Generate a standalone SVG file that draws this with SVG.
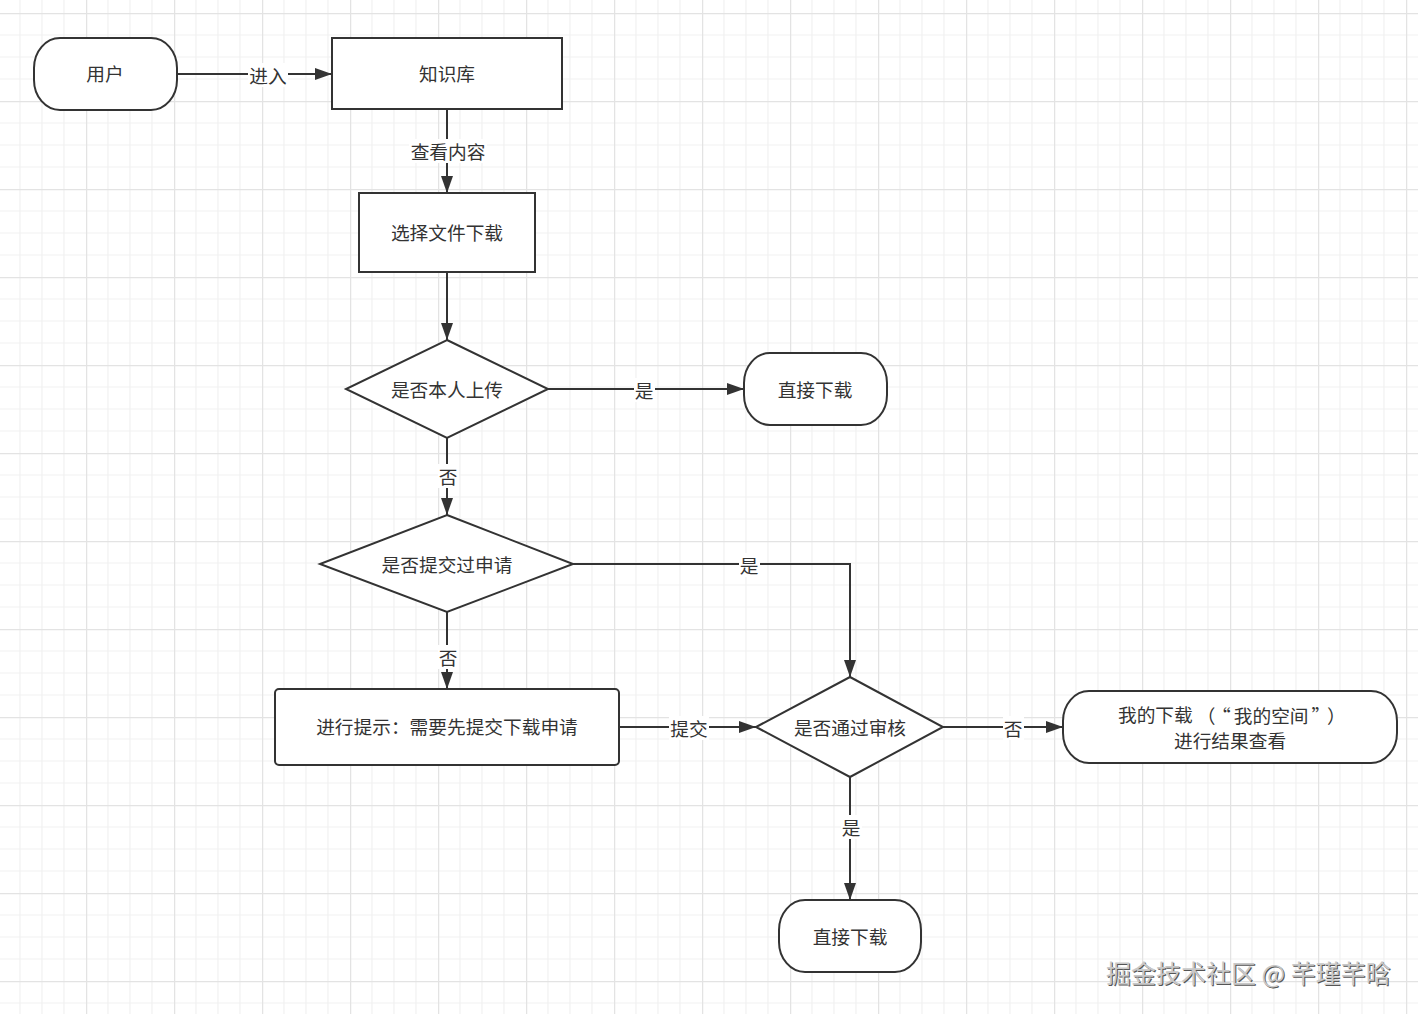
<svg xmlns="http://www.w3.org/2000/svg" width="1418" height="1014" viewBox="0 0 1418 1014">
<style>
.node{fill:#fff;stroke:#333;stroke-width:2}
.t{font-family:"Noto Sans CJK SC","Noto Sans",sans-serif;font-size:18.7px;fill:#333;text-anchor:middle;dominant-baseline:central}
.s{text-anchor:start}
.edge{fill:none;stroke:#333;stroke-width:2}
.lbg{fill:#fff}
.wm{font-family:"Noto Sans CJK SC","Noto Sans",sans-serif;font-size:25px}
</style>
<defs>
<pattern id="grid" x="-2" y="13" width="88" height="88" patternUnits="userSpaceOnUse">
<path d="M22 0V88M44 0V88M66 0V88M0 22H88M0 44H88M0 66H88" stroke="#f1f1f1" stroke-width="1.2" fill="none"/>
<path d="M0.5 0V88M0 0.5H88" stroke="#e3e3e3" stroke-width="1.5" fill="none"/>
</pattern>
<marker id="arr" viewBox="0 0 17 12" refX="17" refY="6" markerWidth="17" markerHeight="12" markerUnits="userSpaceOnUse" orient="auto">
<path d="M0 0L17 6L0 12z" fill="#333"/>
</marker>
</defs>
<rect width="1418" height="1014" fill="#fff"/>
<rect width="1418" height="1014" fill="url(#grid)"/>

<g id="connectors">
<path class="edge" d="M177 74H332" marker-end="url(#arr)"/>
<path class="edge" d="M447 109V193" marker-end="url(#arr)"/>
<path class="edge" d="M447 272V340" marker-end="url(#arr)"/>
<path class="edge" d="M548 389H744" marker-end="url(#arr)"/>
<path class="edge" d="M447 438V515" marker-end="url(#arr)"/>
<path class="edge" d="M573 564H850V677" marker-end="url(#arr)"/>
<path class="edge" d="M447 612V689" marker-end="url(#arr)"/>
<path class="edge" d="M619 727H756" marker-end="url(#arr)"/>
<path class="edge" d="M943 727H1063" marker-end="url(#arr)"/>
<path class="edge" d="M850 777V900" marker-end="url(#arr)"/>
<rect class="lbg" x="248" y="63" width="40" height="24"/><text class="t" x="268" y="74.5">进入</text>
<rect class="lbg" x="409" y="139" width="78" height="24"/><text class="t" x="448" y="150.5">查看内容</text>
<rect class="lbg" x="634" y="378" width="21" height="24"/><text class="t" x="644" y="389.5">是</text>
<rect class="lbg" x="438" y="464" width="21" height="24"/><text class="t" x="448" y="475.5">否</text>
<rect class="lbg" x="739" y="553" width="21" height="24"/><text class="t" x="749" y="564.5">是</text>
<rect class="lbg" x="438" y="645" width="21" height="24"/><text class="t" x="448" y="656.5">否</text>
<rect class="lbg" x="669" y="716" width="40" height="24"/><text class="t" x="689" y="727.5">提交</text>
<rect class="lbg" x="1003" y="716" width="21" height="24"/><text class="t" x="1013" y="727.5">否</text>
<rect class="lbg" x="841" y="815" width="21" height="24"/><text class="t" x="851" y="826.5">是</text>
</g>

<g id="n-user"><rect class="node" x="34" y="38" width="143" height="72" rx="26" ry="30"/><text class="t" x="105" y="72.5">用户</text></g>
<g id="n-kb"><rect class="node" x="332" y="38" width="230" height="71"/><text class="t" x="447" y="72.5">知识库</text></g>
<g id="n-select"><rect class="node" x="359" y="193" width="176" height="79"/><text class="t" x="447" y="231.5">选择文件下载</text></g>
<g id="n-d1"><polygon class="node" points="447,340 548,389 447,438 346,389"/><text class="t" x="447" y="388.5">是否本人上传</text></g>
<g id="n-direct1"><rect class="node" x="744" y="353" width="143" height="72" rx="26" ry="30"/><text class="t" x="815" y="388.5">直接下载</text></g>
<g id="n-d2"><polygon class="node" points="447,515 573,564 447,612 320,564"/><text class="t" x="447" y="563.5">是否提交过申请</text></g>
<g id="n-tip"><rect class="node" x="275" y="689" width="344" height="76" rx="4"/><text class="t" x="447" y="725.5">进行提示：需要先提交下载申请</text></g>
<g id="n-d3"><polygon class="node" points="850,677 943,727 850,777 756,727"/><text class="t" x="850" y="726.5">是否通过审核</text></g>
<g id="n-result"><rect class="node" x="1063" y="691" width="334" height="72" rx="26" ry="30"/>
<text class="t s" x="1118" y="713.5">我的下载<tspan dx="4">（</tspan><tspan dx="6">“</tspan><tspan dx="3">我的空间</tspan><tspan dx="3">”</tspan><tspan dx="6">）</tspan><tspan x="1174" dy="25.5">进行结果查看</tspan></text>
</g>
<g id="n-direct2"><rect class="node" x="779" y="900" width="142" height="72" rx="26" ry="30"/><text class="t" x="850" y="935.5">直接下载</text></g>

<g id="watermark">
<text class="wm" x="1107" y="973" dominant-baseline="central" fill="#555">掘金技术社区 @ 芊瑾芊晗</text>
<text class="wm" x="1106" y="972" dominant-baseline="central" fill="#c8c8c8">掘金技术社区 @ 芊瑾芊晗</text>
</g>
</svg>
